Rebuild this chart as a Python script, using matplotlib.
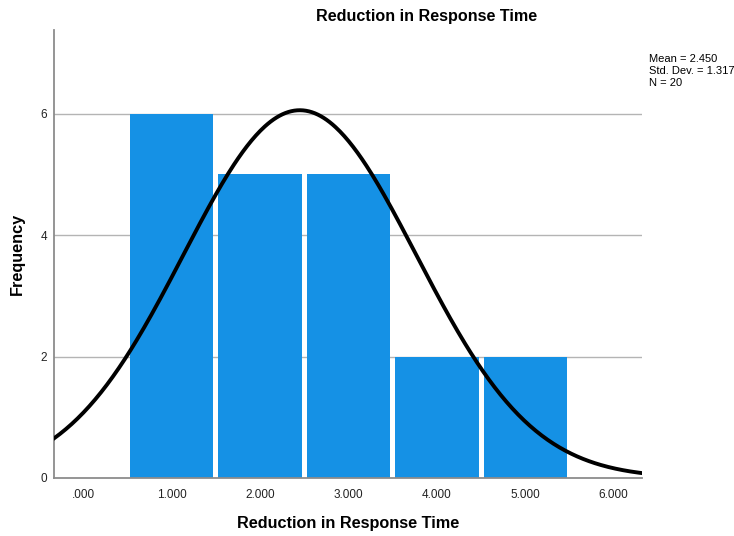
import numpy as np
import matplotlib
matplotlib.use('Agg')
from matplotlib import pyplot as plt

plt.rcParams['font.family'] = ['Liberation Sans', 'DejaVu Sans']

# histogram values
bin_centers = [1, 2, 3, 4, 5]
frequencies = [6, 5, 5, 2, 2]
xtick_values = [0, 1, 2, 3, 4, 5, 6]
xtick_labels = ['.000', '1.000', '2.000', '3.000', '4.000', '5.000', '6.000']
ytick_values = [0, 2, 4, 6]
mean_val = 2.450
std_val = 1.317
n_val = 20

fig = plt.figure(figsize=(7.34, 5.36), dpi=100)
ax = fig.add_axes([54/734, 58/536, (642-54)/734, (478-30)/536])

for y in ytick_values[1:]:
    ax.axhline(y, color='#b4b4b4', lw=1, zorder=0)

ax.bar(bin_centers, frequencies, width=0.945, color='#1591e5',
       linewidth=0, zorder=2)

# normal curve scaled to counts (bin width 1)
xs = np.linspace(-0.33, 6.32, 400)
ys = n_val * 1.0 / (std_val * np.sqrt(2*np.pi)) * np.exp(-0.5*((xs - mean_val)/std_val)**2)
ax.plot(xs, ys, color='black', lw=2.8, zorder=3)

ax.set_xlim(-0.33, 6.32)
ax.set_ylim(0, 7.38)
ax.set_xticks(xtick_values)
ax.set_xticklabels(xtick_labels)
ax.set_yticks(ytick_values)
ax.tick_params(axis='both', length=0, labelsize=8.5, colors='#222222')
ax.tick_params(axis='x', pad=8)
ax.tick_params(axis='y', pad=5)
for s in ['top', 'right']:
    ax.spines[s].set_visible(False)
for s in ['left', 'bottom']:
    ax.spines[s].set_color('#8c8c8c')
    ax.spines[s].set_linewidth(1.3)

ax.set_xlabel('Reduction in Response Time', fontsize=11.7, fontweight='bold', labelpad=11)
ax.set_ylabel('Frequency', fontsize=11.7, fontweight='bold', labelpad=11)

fig.text(427/734, 1 - 16/536, 'Reduction in Response Time', fontsize=11.6,
         fontweight='bold', ha='center', va='center')
fig.text(649/734, 1 - 54/536,
         'Mean = %.3f\nStd. Dev. = %.3f\nN = %d' % (mean_val, std_val, n_val),
         fontsize=8, ha='left', va='top', linespacing=1.25)

fig.savefig('out.png', dpi=100)
